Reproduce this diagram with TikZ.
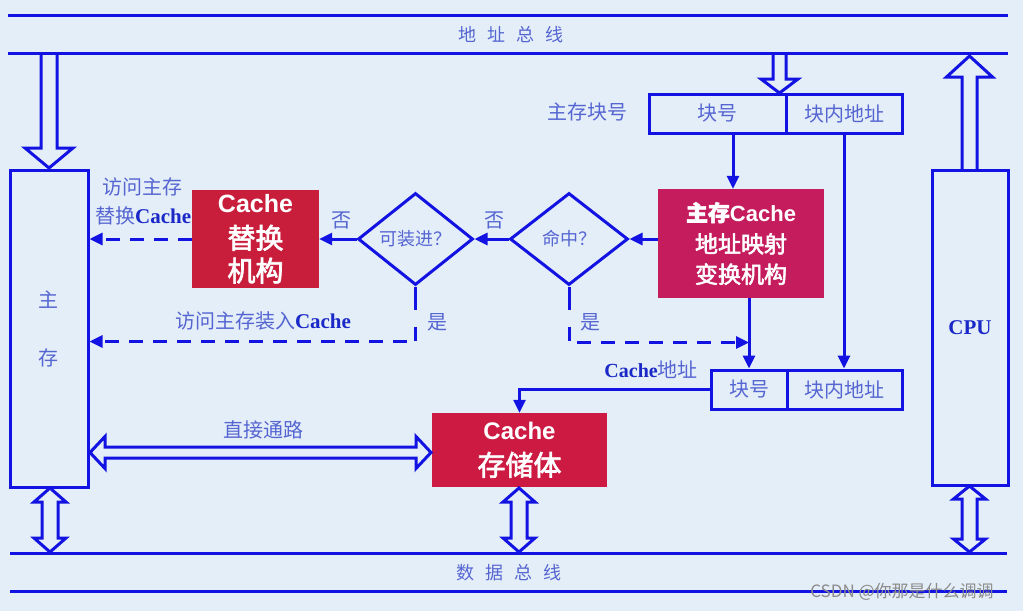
\documentclass[tikz,border=0pt]{standalone}
\usepackage{fontspec}
\setmainfont{Noto Sans CJK SC}
\newfontfamily\cjkb[FakeBold=2.5]{Noto Sans CJK SC}
\newfontfamily\lsans{Liberation Sans}
\newfontfamily\tnr{Liberation Serif}
\usetikzlibrary{arrows.meta,shapes.geometric,calc}
\definecolor{bgc}{HTML}{E4EEF8}
\definecolor{busblue}{HTML}{1212E2}
\definecolor{lblue}{HTML}{5565D2}
\definecolor{dblue}{HTML}{1A28C8}
\definecolor{redA}{HTML}{C81E3C}
\definecolor{redB}{HTML}{C41C5C}
\definecolor{redC}{HTML}{CC1A42}
\newcommand\fs[1]{\fontsize{#1}{#1}\selectfont}
\newcommand\bC{{\tnr\bfseries\color{dblue}Cache}}
% hollow arrow shapes
\newcommand\hdown[6]{% x ytop ybot shaft-half head-half head-length
  \draw[hollow] (#1-#4,#2) -- (#1-#4,#3-#6) -- (#1-#5,#3-#6) -- (#1,#3) -- (#1+#5,#3-#6) -- (#1+#4,#3-#6) -- (#1+#4,#2);}
\newcommand\hup[6]{% x ybot ytop shaft-half head-half head-length
  \draw[hollow] (#1-#4,#2) -- (#1-#4,#3+#6) -- (#1-#5,#3+#6) -- (#1,#3) -- (#1+#5,#3+#6) -- (#1+#4,#3+#6) -- (#1+#4,#2);}
\newcommand\vboth[6]{% x y1 y2 sw hw hl
  \draw[hollow] (#1-#4,#2+#6) -- (#1-#5,#2+#6) -- (#1,#2) -- (#1+#5,#2+#6) -- (#1+#4,#2+#6) -- (#1+#4,#3-#6) -- (#1+#5,#3-#6) -- (#1,#3) -- (#1-#5,#3-#6) -- (#1-#4,#3-#6) -- cycle;}
\newcommand\hboth[6]{% y x1 x2 sw hw hl
  \draw[hollow] (#2+#6,#1-#4) -- (#2+#6,#1-#5) -- (#2,#1) -- (#2+#6,#1+#5) -- (#2+#6,#1+#4) -- (#3-#6,#1+#4) -- (#3-#6,#1+#5) -- (#3,#1) -- (#3-#6,#1-#5) -- (#3-#6,#1-#4) -- cycle;}
\tikzset{
  bus/.style={draw=busblue, line width=3pt},
  hollow/.style={draw=busblue, line width=3pt, line join=miter},
  regbox/.style={draw=busblue, line width=3pt, inner sep=0pt, text=lblue, font=\fs{20}},
  redbox/.style={inner sep=0pt, text=white, align=center},
  lbl/.style={text=lblue, font=\fs{20}, inner sep=0pt},
  buslbl/.style={text=lblue, font=\fs{18}, inner sep=0pt},
  line/.style={draw=busblue, line width=3pt},
  conn/.style={line, -{Triangle[length=13pt,width=12pt]}},
  dashconn/.style={conn, dash pattern=on 14pt off 10pt},
  dia/.style={diamond, draw=busblue, line width=3pt, inner sep=0pt, text=lblue, font=\fs{18}}
}
\begin{document}
\begin{tikzpicture}[x=1pt,y=-1pt]
\useasboundingbox[fill=bgc] (0,0) rectangle (1023,611);
% buses
\draw[bus] (8,15) -- (1008,15);
\draw[bus] (8,53) -- (1008,53);
\node[buslbl] (abus) at (511,35) {地\hspace{11pt}址\hspace{11pt}总\hspace{11pt}线};
\draw[bus] (10,553) -- (1007,553);
\draw[bus] (10,591) -- (1007,591);
\node[buslbl] (dbus) at (509,573) {数\hspace{11pt}据\hspace{11pt}总\hspace{11pt}线};
% main memory and CPU
\node[regbox, minimum width=78pt, minimum height=317pt] (mem) at (49,328.5) {};
\node[lbl] (m1) at (48,300) {主};
\node[lbl] (m2) at (48,358) {存};
\node[regbox, minimum width=76pt, minimum height=315pt, font=\tnr\bfseries\fs{21}, text=dblue] (cpu) at (970,327.5) {CPU};
% address registers
\node[regbox, minimum width=137pt, minimum height=39pt] (tb1) at (717.5,113.5) {块号};
\node[regbox, minimum width=116pt, minimum height=39pt] (tb2) at (844,113.5) {块内地址};
\node[lbl] (tblbl) at (587,112) {主存块号};
\node[regbox, minimum width=76pt, minimum height=39pt] (lb1) at (749,389.5) {块号};
\node[regbox, minimum width=115pt, minimum height=39pt] (lb2) at (844.5,389.5) {块内地址};
\node[lbl, anchor=east] (lblc) at (698,370) {\bC 地址};
% red boxes
\node[redbox, fill=redB, minimum width=166pt, minimum height=109pt] (map) at (741,243.5)
  {{\lsans\bfseries\fs{22}{\cjkb 主存}Cache}\\[9pt]{\cjkb\fs{23}地址映射}\\[8pt]{\cjkb\fs{23}变换机构}};
\node[redbox, fill=redA, minimum width=127pt, minimum height=98pt] (rep) at (255.5,239)
  {{\lsans\bfseries\fs{25}Cache}\\[11pt]{\cjkb\fs{28}替换}\\[6pt]{\cjkb\fs{28}机构}};
\node[redbox, fill=redC, minimum width=175pt, minimum height=74pt] (sto) at (519.5,450)
  {{\lsans\bfseries\fs{24}Cache}\\[11pt]{\cjkb\fs{28}存储体}};
% diamonds
\node[dia, minimum width=118pt, minimum height=92pt] (hit) at (569,239) {命中？};
\node[dia, minimum width=115pt, minimum height=92pt] (ld) at (415.5,239) {可装进？};
% connectors
\draw[conn] ([xshift=15.5pt]tb1.south) -- ([xshift=15.5pt]tb1.south |- map.north);
\draw[conn] (tb2.south) -- (tb2.south |- lb2.north);
\draw[conn] (lb1.north |- map.south) -- (lb1.north);
\draw[conn] (map.west |- hit.east) -- (hit.east);
\draw[conn] (hit.west) -- (ld.east);
\node[lbl] (no1) at (494,220) {否};
\draw[conn] (ld.west) -- (ld.west -| rep.east);
\node[lbl] (no2) at (341,220) {否};
\draw[dashconn] (rep.west) -- (rep.west -| mem.east);
\node[lbl] (r1) at (142,187) {访问主存};
\node[lbl, anchor=west] (r2) at (95,216) {替换{\tnr\bfseries\color{dblue}\fs{21}Cache}};
% yes branch of load
\draw[line] (ld.south) -- ++(0,23);
\coordinate (c1) at ($(ld.south)+(0,55)$);
\draw[dashconn] ($(ld.south)+(0,40)$) -- (c1) -- (c1 -| mem.east);
\node[lbl] (y1) at (437,322) {是};
\node[lbl] (r3) at (263,321) {访问主存装入{\tnr\bfseries\color{dblue}\fs{21}Cache}};
% yes branch of hit
\draw[line] (hit.south) -- ++(0,23);
\coordinate (c2) at ($(hit.south)+(0,56)$);
\draw[dashconn] ($(hit.south)+(0,40)$) -- (c2) -- (c2 -| lb1.north);
\node[lbl] (y2) at (590,322) {是};
% cache address to storage
\draw[conn] (lb1.west) -| (sto.north);
% hollow arrows
\hdown{49}{54}{168}{8}{24}{20}
\hdown{779.5}{54}{93}{6.5}{18.5}{14}
\hup{969.5}{169}{56}{7.5}{23}{21}
\vboth{50}{488}{552}{8}{16}{14}
\vboth{519}{488}{552}{8}{16}{14}
\vboth{969.5}{486}{552}{7.5}{16}{13}
\hboth{452.5}{90}{431}{5.5}{16}{15}
\node[lbl] (direct) at (263,430) {直接通路};
% watermark
\node[text=black!45, font=\fs{17}, inner sep=0pt] (wm) at (902,592) {CSDN @你那是什么调调};
\end{tikzpicture}
\end{document}
